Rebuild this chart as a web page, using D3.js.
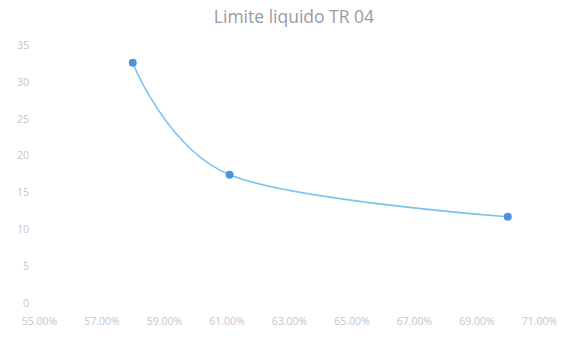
<!DOCTYPE html>
<html>
<head>
<meta charset="utf-8">
<script src="https://cdn.jsdelivr.net/npm/d3@7"></script>
<style>
  html, body { margin: 0; padding: 0; background: #fff; }
  svg { display: block; font-family: "Open Sans", "Liberation Sans", sans-serif; }
</style>
</head>
<body>
<svg id="chart" width="562" height="341"></svg>
<script>
// Liquid limit test: water content (%) vs. number of blows
const title = "Limite liquido TR 04";
const waterContent = [58.0, 61.1, 70.0];
const blows = [32.6, 17.4, 11.7];
const xTicks = [55, 57, 59, 61, 63, 65, 67, 69, 71];
const yTicks = [0, 5, 10, 15, 20, 25, 30, 35];

const svg = d3.select("#chart");

const x = d3.scaleLinear().domain([55, 71]).range([39, 539]);
const y = d3.scaleLinear().domain([0, 35]).range([303, 45]);

// Title
svg.append("text")
  .attr("x", 294).attr("y", 23)
  .attr("text-anchor", "middle")
  .attr("font-size", 17.5)
  .attr("fill", "#9a9aa8")
  .text(title);

// Y axis (labels only)
const yAxis = d3.axisLeft(y).tickValues(yTicks).tickSize(0).tickPadding(0)
  .tickFormat(d3.format("d"));
const gy = svg.append("g").attr("transform", "translate(29,0)").call(yAxis);
gy.select(".domain").remove();
gy.selectAll("text").attr("font-size", 10.5).attr("fill", "#c4c4cc")
  .attr("font-family", "'Open Sans', sans-serif");

// X axis (labels only)
const xAxis = d3.axisBottom(x).tickValues(xTicks).tickSize(0).tickPadding(0)
  .tickFormat(d => d3.format(".2f")(d) + "%");
const gx = svg.append("g").attr("transform", "translate(0,318)").call(xAxis);
gx.select(".domain").remove();
gx.selectAll("text").attr("font-size", 10.5).attr("fill", "#c4c4cc")
  .attr("font-family", "'Open Sans', sans-serif");

// Smoothed line (uniform Catmull-Rom)
const pts = waterContent.map((w, i) => [w, blows[i]]);
const line = d3.line()
  .x(d => x(d[0])).y(d => y(d[1]))
  .curve(d3.curveCatmullRom.alpha(0));
svg.append("path")
  .datum(pts)
  .attr("d", line)
  .attr("fill", "none")
  .attr("stroke", "#7cc2ec")
  .attr("stroke-width", 1.6);

// Markers
svg.selectAll("circle.pt")
  .data(pts)
  .join("circle")
  .attr("class", "pt")
  .attr("cx", d => x(d[0]))
  .attr("cy", d => y(d[1]))
  .attr("r", 4)
  .attr("fill", "#4a94dc");
</script>
</body>
</html>
